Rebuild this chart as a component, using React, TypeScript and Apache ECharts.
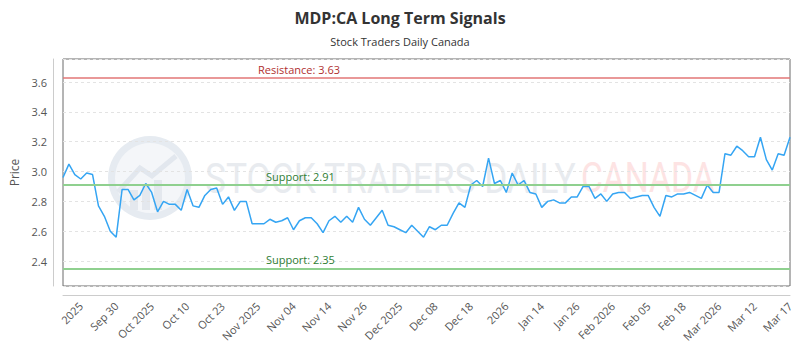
import React, { useEffect, useRef } from 'react';
import * as echarts from 'echarts';

const titleText = 'MDP:CA Long Term Signals';
const subtitleText = 'Stock Traders Daily Canada';

const tickLabels = [
  '2025', 'Sep 30', 'Oct 2025', 'Oct 10', 'Oct 23', 'Nov 2025', 'Nov 04', 'Nov 14', 'Nov 26',
  'Dec 2025', 'Dec 08', 'Dec 18', '2026', 'Jan 14', 'Jan 26', 'Feb 2026', 'Feb 05', 'Feb 18',
  'Mar 2026', 'Mar 12', 'Mar 17',
];
const firstTickIndex = 3;
const tickStep = 6;

const prices = [
  2.96, 3.05, 2.98, 2.95, 2.99, 2.98, 2.77, 2.70, 2.60, 2.56,
  2.88, 2.88, 2.81, 2.84, 2.92, 2.86, 2.73, 2.80, 2.78, 2.78,
  2.74, 2.88, 2.77, 2.76, 2.84, 2.88, 2.89, 2.78, 2.83, 2.74,
  2.80, 2.80, 2.65, 2.65, 2.65, 2.68, 2.66, 2.67, 2.69, 2.61,
  2.67, 2.69, 2.69, 2.65, 2.59, 2.67, 2.70, 2.66, 2.70, 2.66,
  2.76, 2.68, 2.64, 2.69, 2.74, 2.64, 2.63, 2.61, 2.59, 2.64,
  2.60, 2.56, 2.63, 2.61, 2.64, 2.64, 2.72, 2.79, 2.76, 2.91,
  2.94, 2.90, 3.09, 2.92, 2.94, 2.86, 2.99, 2.91, 2.94, 2.86,
  2.85, 2.76, 2.80, 2.81, 2.79, 2.79, 2.83, 2.83, 2.90, 2.90,
  2.82, 2.85, 2.80, 2.85, 2.86, 2.86, 2.82, 2.83, 2.84, 2.84,
  2.76, 2.70, 2.84, 2.83, 2.85, 2.85, 2.86, 2.84, 2.82, 2.91,
  2.86, 2.86, 3.12, 3.11, 3.17, 3.14, 3.10, 3.10, 3.23, 3.08,
  3.01, 3.12, 3.11, 3.23,
];

const resistanceLevel = 3.63;
const supportLevels = [2.91, 2.35];
const yMin = 2.2325;
const yMax = 3.755;

const categories = prices.map((_, i) =>
  i >= firstTickIndex && (i - firstTickIndex) % tickStep === 0
    ? tickLabels[(i - firstTickIndex) / tickStep] ?? ''
    : ''
);

export default function App() {
  const ref = useRef<HTMLDivElement>(null);

  useEffect(() => {
    if (!ref.current) return;
    const chart = echarts.init(ref.current, undefined, { renderer: 'svg' });
    const font = "'Open Sans', 'DejaVu Sans', sans-serif";

    chart.setOption({
      animation: false,
      backgroundColor: '#ffffff',
      title: {
        text: titleText,
        subtext: subtitleText,
        left: 'center',
        top: 5,
        itemGap: 10,
        textStyle: { fontFamily: font, fontSize: 16, fontWeight: 'bold', color: '#333333' },
        subtextStyle: { fontFamily: font, fontSize: 11, color: '#333333' },
      },
      graphic: [
        {
          type: 'group',
          silent: true,
          z: 0,
          children: [
            { type: 'circle', shape: { cx: 150, cy: 178, r: 42 }, style: { fill: '#e6ebf1' } },
            { type: 'circle', shape: { cx: 150, cy: 178, r: 35 }, style: { fill: '#f4f6f9' } },
            { type: 'polyline', shape: { points: [[118, 192], [140, 168], [152, 176], [176, 156]] }, style: { stroke: '#e2e7ee', lineWidth: 5, fill: 'none' } },
            { type: 'rect', shape: { x: 130, y: 190, width: 8, height: 20 }, style: { fill: '#e4e8ee' } },
            { type: 'rect', shape: { x: 142, y: 184, width: 8, height: 26 }, style: { fill: '#e4e8ee' } },
            { type: 'rect', shape: { x: 154, y: 180, width: 8, height: 30 }, style: { fill: '#e4e8ee' } },
            {
              type: 'text', x: 205, y: 178, scaleX: 0.84,
              style: { text: 'STOCK TRADERS DAILY', fontFamily: 'Roboto, sans-serif', fontSize: 42, fill: '#e8ebef', verticalAlign: 'middle', align: 'left' },
            },
            {
              type: 'text', x: 581, y: 178, scaleX: 0.8,
              style: { text: 'CANADA', fontFamily: 'Roboto, sans-serif', fontSize: 42, fill: '#fde3e3', verticalAlign: 'middle', align: 'left' },
            },
          ],
        },
      ],
      grid: {
        left: 63,
        right: 10,
        top: 59,
        bottom: 64,
        show: true,
        borderColor: '#6b6b6b',
        borderWidth: 1,
        backgroundColor: 'transparent',
      },
      xAxis: {
        type: 'category',
        data: categories,
        boundaryGap: false,
        offset: 9,
        axisLine: { show: true, lineStyle: { color: '#cccccc' } },
        axisTick: { show: false },
        splitLine: { show: false },
        axisLabel: {
          interval: (_i: number, v: string) => v !== '',
          rotate: 45,
          margin: 9,
          fontFamily: font,
          fontSize: 11,
          color: '#555555',
        },
      },
      yAxis: {
        type: 'value',
        min: yMin,
        max: yMax,
        splitNumber: 7,
        offset: 10,
        name: 'Price',
        nameLocation: 'middle',
        nameGap: 32,
        nameTextStyle: { fontFamily: font, fontSize: 12, color: '#555555' },
        axisLine: { show: true, lineStyle: { color: '#cccccc' } },
        axisTick: { show: false },
        axisLabel: {
          showMinLabel: false,
          showMaxLabel: false,
          margin: 6,
          fontFamily: font,
          fontSize: 11,
          color: '#555555',
          formatter: (v: number) => v.toFixed(1),
        },
        splitLine: { show: true, lineStyle: { color: '#e3e3e3', type: [3, 3] } },
      },
      series: [
        {
          type: 'line',
          data: prices,
          symbol: 'none',
          lineStyle: { color: '#35a5f3', width: 1.5 },
          z: 3,
          markLine: {
            silent: true,
            symbol: 'none',
            data: [
              {
                yAxis: resistanceLevel,
                lineStyle: { color: '#e27676', width: 1.5, type: 'solid' },
                label: {
                  formatter: 'Resistance: ' + resistanceLevel.toFixed(2),
                  position: 'insideStartTop',
                  distance: [195, 3],
                  color: '#b03030',
                  fontFamily: font,
                  fontSize: 11,
                },
              },
              ...supportLevels.map((s) => ({
                yAxis: s,
                lineStyle: { color: '#8fd08f', width: 2, type: 'solid' },
                label: {
                  formatter: 'Support: ' + s.toFixed(2),
                  position: 'insideStartTop',
                  distance: [203, 3],
                  color: '#2e7d32',
                  fontFamily: font,
                  fontSize: 11,
                },
              })),
            ],
          },
        },
      ],
    });

    return () => chart.dispose();
  }, []);

  return (
    <div
      ref={ref}
      style={{ position: 'absolute', left: 0, top: 0, width: 800, height: 350 }}
    />
  );
}
